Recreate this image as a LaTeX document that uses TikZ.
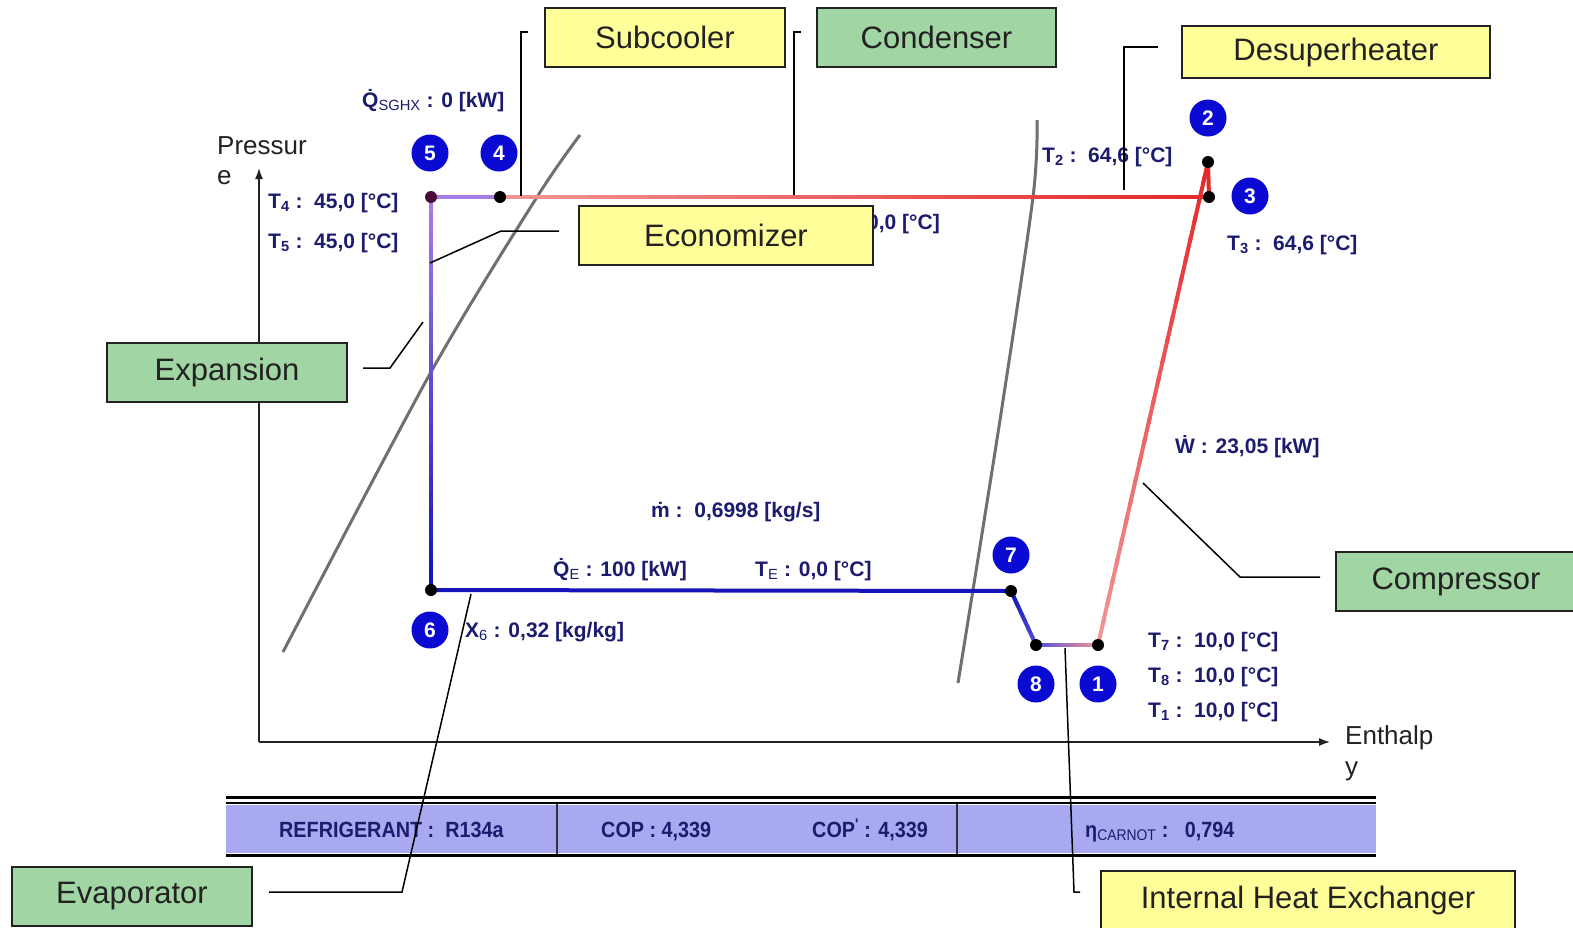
\documentclass[tikz,border=0pt]{standalone}
\usepackage{fontspec}
\setmainfont{Liberation Sans}
\newfontfamily\barfont[FakeStretch=0.9]{Liberation Sans}
\usetikzlibrary{calc,arrows.meta}
\definecolor{navy}{HTML}{1C1C6E}
\definecolor{cycblue}{HTML}{1414B8}
\definecolor{cycmid}{HTML}{5050D8}
\definecolor{cycpurple}{HTML}{A77BE6}
\definecolor{cycpink}{HTML}{F29494}
\definecolor{cycred}{HTML}{E52A2A}
\definecolor{numblue}{HTML}{0A0AD2}
\definecolor{boxyellow}{HTML}{FFFF99}
\definecolor{boxgreen}{HTML}{A2D5A4}
\definecolor{barfill}{HTML}{A9A9F2}
\definecolor{satgray}{HTML}{707070}
\definecolor{boxtext}{HTML}{222222}
\definecolor{dotpurple}{HTML}{4A0A3A}
\newcommand\gradline[4]{%
  \foreach \i in {0,...,23}{%
    \pgfmathsetmacro\ga{\i/24}%
    \pgfmathsetmacro\gb{min(1,(\i+1.3)/24)}%
    \pgfmathtruncatemacro\gp{100-\i*100/23}%
    \draw[cyc,#3!\gp!#4] ($(#1)!\ga!(#2)$) -- ($(#1)!\gb!(#2)$);
  }}
\tikzset{
  cyc/.style={line width=4pt, line cap=butt},
  dot/.style={circle, fill=black, inner sep=0pt, minimum size=12pt},
  num/.style={circle, fill=numblue, text=white, font=\bfseries\fontsize{21}{21}\selectfont, inner sep=0pt, minimum size=37pt},
  data/.style={text=navy, font=\bfseries\fontsize{21}{24}\selectfont, inner sep=0pt, anchor=base west},
  bartext/.style={text=navy, font=\barfont\bfseries\fontsize{22}{24}\selectfont, inner sep=0pt, anchor=base west},
  lbl/.style={draw=boxtext, line width=1.5pt, text=boxtext, font=\fontsize{31}{36}\selectfont, inner sep=0pt, minimum height=59pt},
  leader/.style={line width=1.5pt, black},
  axis/.style={line width=1.5pt, boxtext, -{Latex[length=11pt,width=8pt]}},
  axlabel/.style={text=boxtext, font=\fontsize{26}{30}\selectfont, inner sep=0pt, anchor=base west},
  sat/.style={line width=3pt, satgray},
}
\begin{document}
\begin{tikzpicture}[x=1pt,y=-1pt]
\clip (0,0) rectangle (1573,927);
\fill[white] (0,0) rectangle (1573,927);

% axes
\coordinate (o) at (259,742);
\coordinate (ytop) at (259,168);
\coordinate (xend) at (1330,742);
\draw[axis] (o) -- (ytop);
\draw[axis] (o) -- (xend);
\node[axlabel] (plab1) at (217,154) {Pressur};
\node[axlabel] (plab2) at (217,184) {e};
\node[axlabel] (hlab1) at (1345,744) {Enthalp};
\node[axlabel] (hlab2) at (1345,775) {y};

% saturation lines
\draw[sat] plot[smooth] coordinates {(283,652) (431,372) (537,197) (580,135)};
\draw[sat] plot[smooth] coordinates {(1037,120) (1033,197) (1000,420) (958,683)};

% cycle points
\coordinate (p1) at (1098,645);
\coordinate (p2) at (1208,162);
\coordinate (p3) at (1209,197);
\coordinate (p4) at (500,197);
\coordinate (p5) at (431,197);
\coordinate (p6) at (431,590);
\coordinate (p7) at (1011,591);
\coordinate (p8) at (1036,645);

\draw[cyc,cycpurple] (p5) -- (p4);
\gradline{p4}{p3}{cycpink}{cycred}
\gradline{p5}{p6}{cycpurple}{cycblue}
\draw[cyc,cycblue] (p6) -- (p7);
\gradline{p7}{p8}{cycblue}{cycmid}
\gradline{p8}{p1}{cycmid}{cycpink}
\gradline{p1}{p2}{cycpink}{cycred}
\draw[cyc,cycred] (p2) -- (p3);

\node[dot] (d1) at (p1) {};
\node[dot] (d2) at (p2) {};
\node[dot] (d3) at (p3) {};
\node[dot] (d4) at (p4) {};
\node[dot,fill=dotpurple] (d5) at (p5) {};
\node[dot] (d6) at (p6) {};
\node[dot] (d7) at (p7) {};
\node[dot] (d8) at (p8) {};

\node[num] (n1) at (1098,684) {1};
\node[num] (n2) at (1208,118) {2};
\node[num] (n3) at (1250,196) {3};
\node[num] (n4) at (499,153) {4};
\node[num] (n5) at (430,153) {5};
\node[num] (n6) at (430,630) {6};
\node[num] (n7) at (1011,555) {7};
\node[num] (n8) at (1036,684) {8};

% data labels
\node[data] (qsghx) at (362,107) {\.{Q}\textsubscript{\mdseries SGHX} : 0 [kW]};
\node[data] (t4) at (268,208) {T\textsubscript{4} :\ \ 45,0 [°C]};
\node[data] (t5) at (268,248) {T\textsubscript{5} :\ \ 45,0 [°C]};
\node[data] (t2) at (1042,162) {T\textsubscript{2} :\ \ 64,6 [°C]};
\node[data] (t3) at (1227,250) {T\textsubscript{3} :\ \ 64,6 [°C]};
\node[data,anchor=base east] (tc) at (940,229) {0,0 [°C]};
\node[data] (mdot) at (651,517) {\.{m} :\ \ 0,6998 [kg/s]};
\node[data] (qe) at (553,576) {\.{Q}\textsubscript{\mdseries E} : 100 [kW]};
\node[data] (te) at (755,576) {T\textsubscript{\mdseries E} : 0,0 [°C]};
\node[data] (x6) at (465,637) {X\textsubscript{\mdseries 6} : 0,32 [kg/kg]};
\node[data] (wdot) at (1175,453) {\.{W} : 23,05 [kW]};
\node[data] (t7) at (1148,647) {T\textsubscript{7} :\ \ 10,0 [°C]};
\node[data] (t8) at (1148,682) {T\textsubscript{8} :\ \ 10,0 [°C]};
\node[data] (t1) at (1148,717) {T\textsubscript{1} :\ \ 10,0 [°C]};

% bottom bar
\fill[barfill] (226,805) rectangle (1376,853);
\draw[line width=3pt,black] (226,797) -- (1376,797);
\draw[line width=2pt,black] (226,803) -- (1376,803);
\draw[line width=3pt,black] (226,855) -- (1376,855);
\draw[line width=2pt,black!80] (557,804) -- (557,854);
\draw[line width=2pt,black!80] (957,804) -- (957,854);
\node[bartext] (refr) at (279,837) {REFRIGERANT : \ R134a};
\node[bartext] (cop) at (601,837) {COP : 4,339};
\node[bartext] (cop2) at (812,837) {COP\textsuperscript{'} : 4,339};
\node[bartext] (eta) at (1085,837) {η\textsubscript{\mdseries CARNOT} :\ \ \ 0,794};

% leader lines
\coordinate (sc1) at (528,32);  \coordinate (sc2) at (521,32);  \coordinate (sc3) at (521,196);
\coordinate (cd1) at (801,32);  \coordinate (cd2) at (794,32);  \coordinate (cd3) at (794,195);
\coordinate (ds1) at (1158,47); \coordinate (ds2) at (1124,47); \coordinate (ds3) at (1124,190);
\coordinate (ec1) at (559,231); \coordinate (ec2) at (501,231); \coordinate (ec3) at (430,263);
\coordinate (ex1) at (363,368); \coordinate (ex2) at (390,368); \coordinate (ex3) at (423,322);
\coordinate (cp1) at (1320,577); \coordinate (cp2) at (1240,577); \coordinate (cp3) at (1143,483);
\coordinate (ev1) at (269,892); \coordinate (ev2) at (402,892); \coordinate (ev3) at (471,594);
\coordinate (ih1) at (1080,892); \coordinate (ih2) at (1074,892); \coordinate (ih3) at (1065,648);
\draw[leader] (sc1) -- (sc2) -- (sc3);
\draw[leader] (cd1) -- (cd2) -- (cd3);
\draw[leader] (ds1) -- (ds2) -- (ds3);
\draw[leader] (ec1) -- (ec2) -- (ec3);
\draw[leader] (ex1) -- (ex2) -- (ex3);
\draw[leader] (cp1) -- (cp2) -- (cp3);
\draw[leader] (ev1) -- (ev2) -- (ev3);
\draw[leader] (ih1) -- (ih2) -- (ih3);

% label boxes
\node[lbl,fill=boxyellow,minimum width=240pt] (subc) at (665,37.5) {Subcooler};
\node[lbl,fill=boxgreen,minimum width=239pt] (cond) at (936.5,37.5) {Condenser};
\node[lbl,fill=boxyellow,minimum width=308pt,minimum height=52pt] (desu) at (1336,52) {Desuperheater};
\node[lbl,fill=boxyellow,minimum width=294pt] (econ) at (726,235.5) {Economizer};
\node[lbl,fill=boxgreen,minimum width=240pt] (expa) at (227,372.5) {Expansion};
\node[lbl,fill=boxgreen,minimum width=240pt] (comp) at (1456,581.5) {Compressor};
\node[lbl,fill=boxgreen,minimum width=240pt] (evap) at (132,896.5) {Evaporator};
\node[lbl,fill=boxyellow,minimum width=414pt] (ihx) at (1308,900.5) {Internal Heat Exchanger};
\end{tikzpicture}
\end{document}
